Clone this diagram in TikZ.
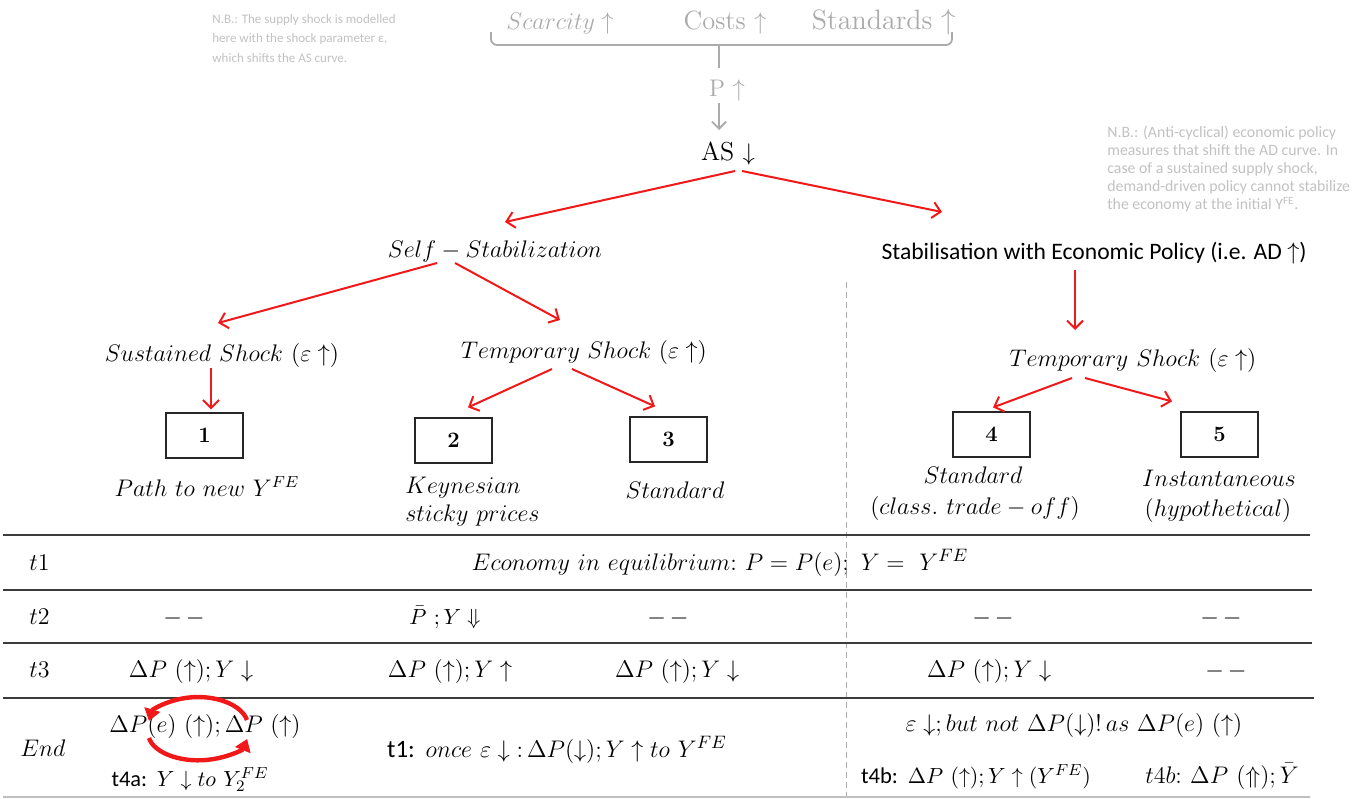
\documentclass[tikz,border=0pt]{standalone}
\usepackage{amsmath}
\usepackage{fontspec}
\newfontfamily\carl{Carlito}
\usetikzlibrary{arrows.meta}
\definecolor{redA}{HTML}{F01818}
\definecolor{noteG}{HTML}{C2C2C2}
\definecolor{topG}{HTML}{ABABAB}
\definecolor{ruleC}{HTML}{3C3C3C}
\definecolor{dashC}{HTML}{ABABAB}
\newcommand{\fs}[1]{\fontsize{#1}{#1}\selectfont}
\tikzset{
  lbl/.style={anchor=base, inner sep=0pt, font=\fs{12}},
  sz/.style={font=\fs{#1}},
  cal/.style={anchor=base, inner sep=0pt, font=\carl\fs{11.8}},
  numbox/.style={draw=black!85, line width=0.6pt, minimum width=38.5pt, minimum height=22.5pt, inner sep=0pt, font=\bfseries\fs{11}},
  redarr/.style={draw=redA, line width=1pt, -{Straight Barb[length=4pt,width=8pt]}},
  grayarr/.style={draw=topG, line width=0.9pt, -{Straight Barb[length=3.5pt,width=7pt]}},
  looparr/.style={draw=redA, line width=2.2pt, -{Triangle[length=6pt,width=8pt]}},
  tline/.style={draw=ruleC, line width=0.9pt},
  leftnote/.style={anchor=north west, align=left, inner sep=0pt, text=noteG, font=\carl\fontsize{6.5}{9.75}\selectfont},
  rightnote/.style={anchor=north west, align=left, inner sep=0pt, text=noteG, font=\carl\fontsize{7.9}{9}\selectfont},
}
\begin{document}
\begin{tikzpicture}[x=0.5pt,y=-0.5pt]
\useasboundingbox (0,0) rectangle (1369,798);
\fill[white] (0,0) rectangle (1369,798);

% notes
\node[leftnote] (nbl) at (212,14) {N.B.: The supply shock is modelled\\here with the shock parameter ε,\\which shifts the AS curve.};
\node[rightnote] (nbr) at (1107,126) {N.B.: (Anti-cyclical) economic policy\\measures that shift the AD curve. In\\case of a sustained supply shock,\\demand-driven policy cannot stabilize\\the economy at the initial Y\textsuperscript{FE}.};

% top causes
\node[lbl, sz=12.8, text=topG] (scar) at (560,29) {$Scarcity\uparrow$};
\node[lbl, sz=13.2, text=topG] (cost) at (725,29) {Costs $\uparrow$};
\node[lbl, sz=14, text=topG] (stand) at (884,29) {Standards $\uparrow$};
\node[lbl, text=topG] (p) at (727,96) {P $\uparrow$};
\draw[topG, line width=0.9pt, rounded corners=3pt] (491,32) -- (491,45) -- (952,45) -- (952,32);
\draw[topG, line width=0.9pt] (719,45) -- ([shift={(-8,-28)}]p.base);
\node[lbl, sz=13] (as) at (728,160) {AS $\downarrow$};
\draw[grayarr] ([shift={(-8,7)}]p.base) -- ([shift={(-9,-30)}]as.base);

% second level
\node[lbl, sz=12.5] (self) at (495,257) {$Self-Stabilization$};
\node[cal] (stab) at (1094,259) {Stabilisation with Economic Policy (i.e. AD $\uparrow$)};
\draw[redarr] ([shift={(7,11)}]as.base) -- ([shift={(10,-35)}]self.base);
\draw[redarr] ([shift={(14,11)}]as.base) -- ([shift={(-152,-47)}]stab.base);

% third level
\node[lbl, sz=12.4] (sus) at (222,361) {$Sustained\ Shock\ (\varepsilon\uparrow)$};
\node[lbl, sz=11.6] (tl) at (584,358) {$Temporary\ Shock\ (\varepsilon\uparrow)$};
\node[lbl, sz=12.4] (tr) at (1133,366) {$Temporary\ Shock\ (\varepsilon\uparrow)$};
\draw[redarr] ([shift={(-58,6)}]self.base) -- ([shift={(-4,-38)}]sus.base);
\draw[redarr] ([shift={(-40,6)}]self.base) -- ([shift={(-24,-38)}]tl.base);
\draw[redarr] ([shift={(-19,11)}]stab.base) -- ([shift={(-58,-36)}]tr.base);

% boxes
\node[numbox] (b1) at (204.5,435.5) {1};
\node[numbox] (b2) at (453.5,440.5) {2};
\node[numbox] (b3) at (668.5,439.5) {3};
\node[numbox] (b4) at (991.5,434.5) {4};
\node[numbox] (b5) at (1219.5,434.5) {5};
\draw[redarr] ([shift={(-11,7)}]sus.base) -- ([shift={(6.5,-3)}]b1.north);
\draw[redarr] ([shift={(-32,11)}]tl.base) -- ([shift={(14.5,-10)}]b2.north);
\draw[redarr] ([shift={(-12,11)}]tl.base) -- ([shift={(-13.5,-10)}]b3.north);
\draw[redarr] ([shift={(-61,12)}]tr.base) -- ([shift={(1.5,-4)}]b4.north);
\draw[redarr] ([shift={(-48,12)}]tr.base) -- ([shift={(-47.5,-10)}]b5.north);

% box captions
\node[lbl, sz=12] (c1) at (207,496) {$Path\ to\ new\ Y^{FE}$};
\node[lbl, sz=12.3, anchor=base west] (c2a) at (405,493) {$Keynesian$};
\node[lbl, sz=12.3, anchor=base west] (c2b) at (405,521) {$sticky\ prices$};
\node[lbl, sz=12.8] (c3) at (675,498) {$Standard$};
\node[lbl, sz=12.8] (c4a) at (973,483) {$Standard$};
\node[lbl, sz=12.8] (c4b) at (975,514) {$(class.\ trade-off)$};
\node[lbl, sz=13] (c5a) at (1219,486) {$Instantaneous$};
\node[lbl, sz=13] (c5b) at (1218,516) {$(hypothetical)$};

% dashed separator
\draw[dashC, line width=0.5pt, dash pattern=on 3pt off 2pt] (846,282) -- (846,798);

% table rules
\draw[tline] (3,535) -- (1310,535);
\draw[tline] (3,590) -- (1312,590);
\draw[tline] (3,643) -- (1312,643);
\draw[tline] (3,698) -- (1314,698);
\draw[black!25, line width=0.6pt] (3,797) -- (1310,797);

% row labels
\node[lbl, anchor=base west] (r1) at (29,570) {$t1$};
\node[lbl, anchor=base west] (r2) at (29,624) {$t2$};
\node[lbl, anchor=base west] (r3) at (29,677) {$t3$};
\node[lbl, anchor=base west] (r4) at (20,756) {$End$};

% t1 row
\node[lbl, sz=12.2] (eq) at (720,570) {$Economy\ in\ equilibrium{:}\ P=P(e);\ Y=\ Y^{FE}$};

% t2 row
\node[lbl] (t2a) at (184,624) {$-\,-$};
\node[lbl, sz=11.3] (t2b) at (445,624) {$\bar{P}\ ;Y\Downarrow$};
\node[lbl] (t2c) at (668,624) {$-\,-$};
\node[lbl] (t2d) at (993,624) {$-\,-$};
\node[lbl] (t2e) at (1221,624) {$-\,-$};

% t3 row
\node[lbl, sz=11.8] (t3a) at (191,677) {$\Delta P\ (\uparrow); Y\downarrow$};
\node[lbl, sz=11.8] (t3b) at (450,677) {$\Delta P\ (\uparrow); Y\uparrow$};
\node[lbl, sz=11.8] (t3c) at (677,677) {$\Delta P\ (\uparrow); Y\downarrow$};
\node[lbl, sz=11.8] (t3d) at (989,677) {$\Delta P\ (\uparrow); Y\downarrow$};
\node[lbl] (t3e) at (1226,677) {$-\,-$};

% end row
\node[lbl, sz=11.5] (dp) at (205,732) {$\Delta P(e)\ (\uparrow);\Delta P\ (\uparrow)$};
\node[lbl, sz=11.2] (t4a) at (190,786) {{\carl t4a:} $Y\downarrow to\ Y_2^{FE}$};
\node[lbl, sz=12.5] (once) at (557,757) {{\carl t1:} $once\ \varepsilon\downarrow{:}\,\Delta P(\downarrow); Y\uparrow to\ Y^{FE}$};
\node[lbl, sz=11.9] (notdp) at (1074,731) {$\varepsilon\downarrow; but\ not\ \Delta P(\downarrow)!\,as\ \Delta P(e)\ (\uparrow)$};
\node[lbl, sz=11.3] (t4b) at (976,783) {{\carl t4b:} $\Delta P\ (\uparrow); Y\uparrow (Y^{FE})$};
\node[lbl, sz=12.6] (t4bb) at (1222,783) {$t4b{:}\ \Delta P\ (\Uparrow);\bar{Y}$};

% loop arrows
\draw[looparr] ([shift={(42,-12)}]dp.base) arc[start angle=12, end angle=170, x radius=25pt, y radius=14.5pt];
\draw[looparr] ([shift={(-56,6)}]dp.base) arc[start angle=190, end angle=348, x radius=25pt, y radius=13.5pt];
\end{tikzpicture}
\end{document}
